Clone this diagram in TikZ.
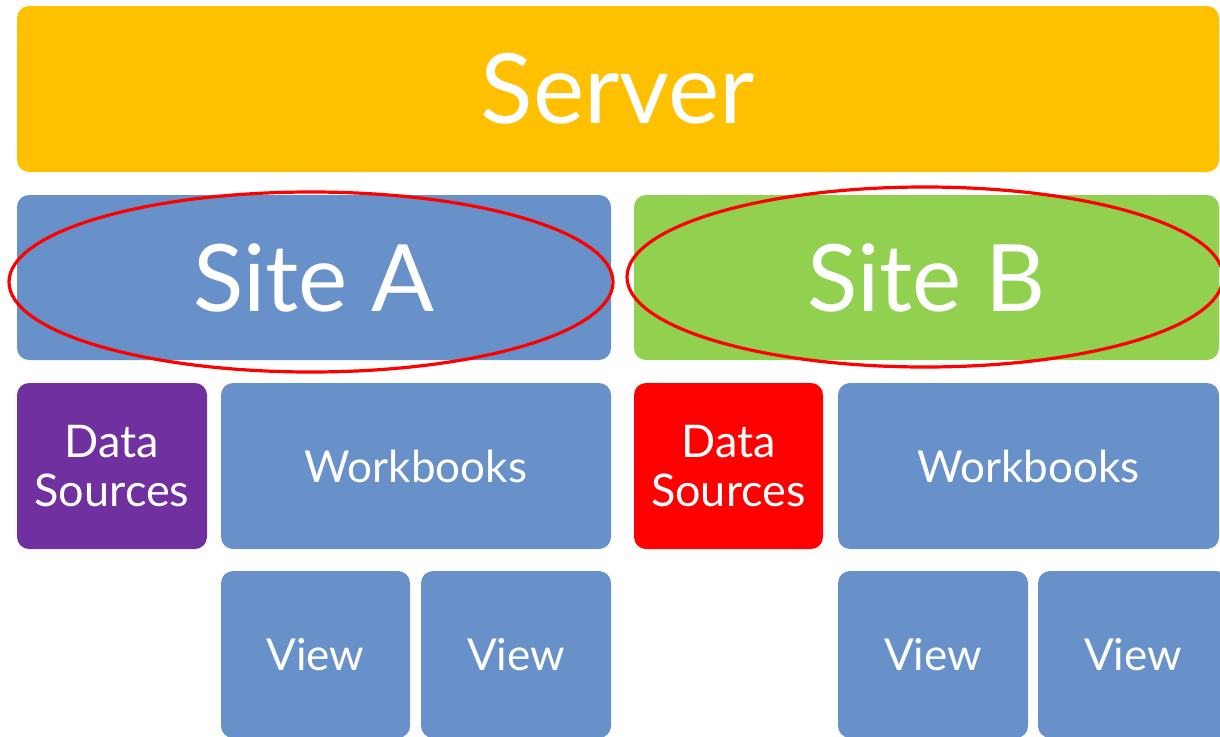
\documentclass[tikz,border=0pt]{standalone}
\usepackage{fontspec}
\setmainfont{Lato}
\usetikzlibrary{shapes.geometric}
\definecolor{cYellow}{HTML}{FFC000}
\definecolor{cBlue}{HTML}{6891C9}
\definecolor{cGreen}{HTML}{92D050}
\definecolor{cPurple}{HTML}{7030A0}
\definecolor{cRed}{HTML}{FF0000}
\tikzset{
  box/.style={rectangle, rounded corners=12pt, inner sep=0pt, text=white, align=center},
  small/.style={font=\fontsize{44}{49}\selectfont},
  oval/.style={draw=cRed, line width=3.2pt},
}
\begin{document}
\begin{tikzpicture}[x=1pt,y=-1pt]
\useasboundingbox (0,0) rectangle (1220,736);
\clip (0,0) rectangle (1220,736);
\node[box, fill=cYellow, minimum width=1202pt, minimum height=166pt, font=\fontsize{97}{100}\selectfont] (server) at (618,89) {Server};
\node[box, fill=cBlue, minimum width=594pt, minimum height=165pt, font=\fontsize{93}{96}\selectfont] (siteA) at (314,277.5) {Site A};
\node[box, fill=cGreen, minimum width=585pt, minimum height=165pt, font=\fontsize{93}{96}\selectfont] (siteB) at (926.5,277.5) {Site B};
\node[box, fill=cPurple, minimum width=190pt, minimum height=166pt, font=\fontsize{45}{49}\selectfont] (dsA) at (112,466) {Data\\Sources};
\node[box, fill=cBlue, minimum width=390pt, minimum height=166pt, small] (wbA) at (416,466) {Workbooks};
\node[box, fill=cRed, minimum width=189pt, minimum height=166pt, font=\fontsize{45}{49}\selectfont] (dsB) at (728.5,466) {Data\\Sources};
\node[box, fill=cBlue, minimum width=381pt, minimum height=166pt, small] (wbB) at (1028.5,466) {Workbooks};
\node[box, fill=cBlue, minimum width=189pt, minimum height=167pt, small] (vA1) at (315.5,654.5) {View};
\node[box, fill=cBlue, minimum width=190pt, minimum height=167pt, small] (vA2) at (516,654.5) {View};
\node[box, fill=cBlue, minimum width=190pt, minimum height=167pt, small] (vB1) at (933,654.5) {View};
\node[box, fill=cBlue, minimum width=190pt, minimum height=167pt, small] (vB2) at (1133,654.5) {View};
\draw[oval] (311,282) ellipse [x radius=302, y radius=90];
\draw[oval] (925,277) ellipse [x radius=298, y radius=90];
\end{tikzpicture}
\end{document}
